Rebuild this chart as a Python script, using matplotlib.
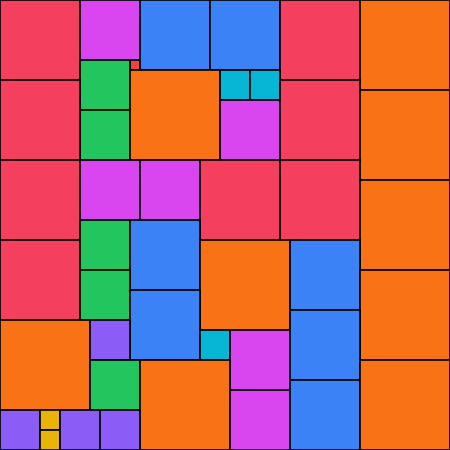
import matplotlib
matplotlib.use("Agg")
import matplotlib.pyplot as plt
from matplotlib.patches import Rectangle

palette = {'red': '#f43f5e', 'red2': '#ef4444', 'magenta': '#d946ef', 'blue': '#3b82f6',
           'orange': '#f97316', 'green': '#22c55e', 'cyan': '#06b6d4',
           'purple': '#8b5cf6', 'yellow': '#eab308'}

# square left / top / side, colour name
xs = [0, 80, 130, 140, 210, 280, 360,
      80, 80, 130, 220, 250, 220, 280, 0, 360,
      0, 80, 140, 200, 280, 360,
      0, 80, 130, 200, 290, 360,
      80, 130, 200, 230, 290,
      0, 90, 90, 140, 230, 290, 360,
      0, 40, 40, 60, 100]
ys = [0, 0, 60, 0, 0, 0, 0,
      60, 110, 70, 70, 70, 100, 80, 80, 90,
      160, 160, 160, 160, 160, 180,
      240, 220, 220, 240, 240, 270,
      270, 290, 330, 330, 310,
      320, 320, 360, 360, 390, 380, 360,
      410, 410, 430, 410, 410]
sides = [80, 60, 10, 70, 70, 80, 90,
         50, 50, 90, 30, 30, 60, 80, 80, 90,
         80, 60, 60, 80, 80, 90,
         80, 50, 70, 90, 70, 90,
         50, 70, 30, 60, 70,
         90, 40, 50, 90, 60, 70, 90,
         40, 20, 20, 40, 40]
colors = ['red', 'magenta', 'red2', 'blue', 'blue', 'red', 'orange',
          'green', 'green', 'orange', 'cyan', 'cyan', 'magenta', 'red', 'red', 'orange',
          'red', 'magenta', 'magenta', 'red', 'red', 'orange',
          'red', 'green', 'blue', 'orange', 'blue', 'orange',
          'green', 'blue', 'cyan', 'magenta', 'blue',
          'orange', 'purple', 'green', 'orange', 'magenta', 'blue', 'orange',
          'purple', 'yellow', 'yellow', 'purple', 'purple']

fig = plt.figure(figsize=(4.5, 4.5), dpi=100)
ax = fig.add_axes([0, 0, 1, 1])
for x, y, s, c in zip(xs, ys, sides, colors):
    ax.add_patch(Rectangle((x, y), s, s, facecolor=palette[c], edgecolor='black', linewidth=1.2))
ax.set_xlim(0, 450)
ax.set_ylim(450, 0)
ax.axis('off')
fig.savefig('out.png', dpi=100)
